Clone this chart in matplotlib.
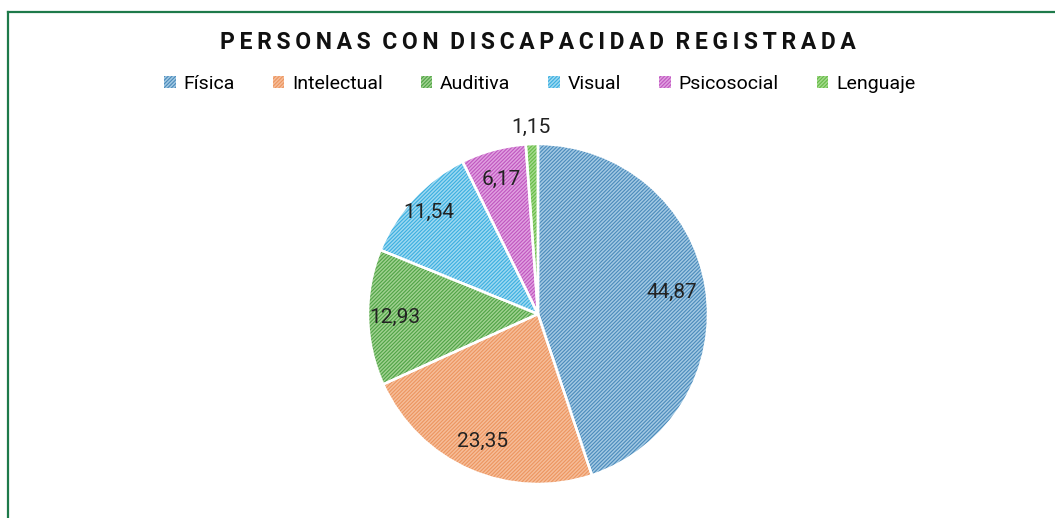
import matplotlib
matplotlib.use('Agg')
import matplotlib.pyplot as plt
from matplotlib.patches import Patch
from matplotlib.lines import Line2D
import numpy as np

# Datos
categorias = ['Física', 'Intelectual', 'Auditiva', 'Visual', 'Psicosocial', 'Lenguaje']
valores = [44.87, 23.35, 12.93, 11.54, 6.17, 1.15]
etiquetas = ['44,87', '23,35', '12,93', '11,54', '6,17', '1,15']

fondo = ['#a3c9e3', '#f6bd99', '#a0d190', '#9ed9f1', '#e0a0e0', '#a4da8d']
rayas = ['#4a8abb', '#ec955f', '#4fa345', '#3aaee0', '#bf56bf', '#66bb46']
dist_etiqueta = [0.80, 0.82, 0.84, 0.88, 0.82, 1.10]

plt.rcParams['font.family'] = ['Roboto', 'DejaVu Sans']
plt.rcParams['hatch.linewidth'] = 0.8

fig = plt.figure(figsize=(10.55, 5.18), dpi=100)
fig.patch.set_facecolor('white')

# borde verde arriba / izquierda
fig.add_artist(Line2D([7.5 / 1055, 7.5 / 1055], [0, 1 - 11.5 / 518], color='#1e7a4a', lw=1.6))
fig.add_artist(Line2D([7.5 / 1055, 1], [1 - 11.5 / 518, 1 - 11.5 / 518], color='#1e7a4a', lw=1.6))

ax = fig.add_axes([368 / 1055, (518 - 484) / 518, 340 / 1055, 340 / 518])

# relleno con rayas
wedges, _ = ax.pie(valores, startangle=90, counterclock=False, colors=fondo,
                   wedgeprops=dict(linewidth=0))
for w, c in zip(wedges, rayas):
    w.set_hatch('/////////')
    w.set_edgecolor(c)
    w.set_linewidth(0)

# bordes blancos
ax.pie(valores, startangle=90, counterclock=False,
       wedgeprops=dict(facecolor='none', edgecolor='white', linewidth=1.8))

for w, txt, d in zip(wedges, etiquetas, dist_etiqueta):
    ang = np.deg2rad((w.theta1 + w.theta2) / 2)
    ax.text(d * np.cos(ang), d * np.sin(ang), txt, ha='center', va='center',
            fontsize=15, color='#222222')

ax.set_xlim(-1.0, 1.0)
ax.set_ylim(-1.0, 1.0)
ax.set_aspect('equal')
ax.axis('off')

titulo = 'PERSONAS CON DISCAPACIDAD REGISTRADA'
titulo_esp = '  '.join('\u2009'.join(p) for p in titulo.split(' '))
fig.text(0.51, 1 - 42 / 518, titulo_esp,
         ha='center', va='center', fontsize=16.5, fontweight='bold', color='#111111')

handles = [Patch(facecolor=f, edgecolor=r, hatch='/////////', linewidth=0) for f, r in zip(fondo, rayas)]
fig.legend(handles, categorias, loc='center', bbox_to_anchor=(0.5115, 1 - 84 / 518), ncol=6,
           frameon=False, fontsize=14, handlelength=0.6, handleheight=0.6,
           handletextpad=0.4, columnspacing=1.95)

fig.savefig('out.png', dpi=100, facecolor='white')
